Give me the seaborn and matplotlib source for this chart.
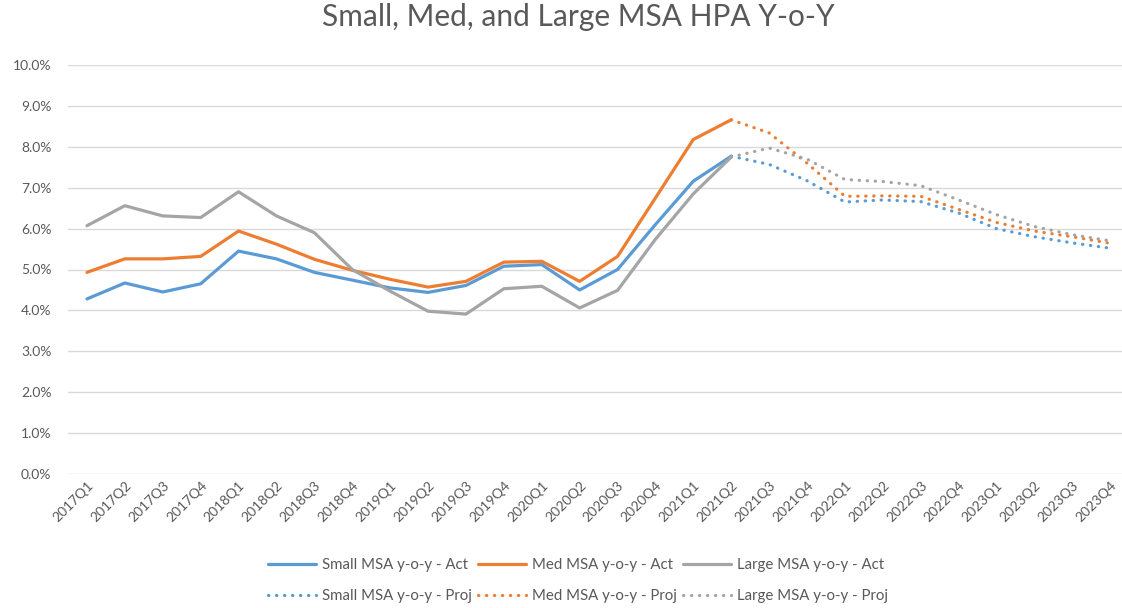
import numpy as np
import pandas as pd
import seaborn as sns
import matplotlib.pyplot as plt

# quarters on the x axis
quarters = [f"{y}Q{q}" for y in range(2017, 2024) for q in range(1, 5)]

# actual y-o-y HPA (%), 2017Q1 - 2021Q2
small_act = [4.28, 4.67, 4.45, 4.65, 5.45, 5.26, 4.93, 4.74, 4.55, 4.44,
             4.61, 5.08, 5.12, 4.50, 5.00, 6.10, 7.16, 7.77]
med_act = [4.93, 5.26, 5.26, 5.32, 5.94, 5.62, 5.25, 4.98, 4.76, 4.57,
           4.71, 5.18, 5.20, 4.71, 5.32, 6.75, 8.18, 8.66]
large_act = [6.07, 6.56, 6.31, 6.27, 6.90, 6.31, 5.90, 5.00, 4.47, 3.98,
             3.91, 4.53, 4.59, 4.06, 4.49, 5.74, 6.85, 7.75]

# projected y-o-y HPA (%), 2021Q2 - 2023Q4
small_proj = [7.77, 7.57, 7.17, 6.65, 6.70, 6.66, 6.38, 6.00, 5.80, 5.65, 5.52]
med_proj = [8.66, 8.34, 7.60, 6.79, 6.80, 6.79, 6.47, 6.15, 5.94, 5.80, 5.64]
large_proj = [7.75, 7.97, 7.70, 7.20, 7.15, 7.05, 6.70, 6.34, 6.05, 5.85, 5.70]

n_act = len(small_act)
pad_act = [np.nan] * (len(quarters) - n_act)
pad_proj = [np.nan] * (len(quarters) - len(small_proj))

df = pd.DataFrame({
    "pos": np.arange(len(quarters)),
    "quarter": quarters,
    "Small MSA y-o-y - Act": small_act + pad_act,
    "Med MSA y-o-y - Act": med_act + pad_act,
    "Large MSA y-o-y - Act": large_act + pad_act,
    "Small MSA y-o-y - Proj": pad_proj + small_proj,
    "Med MSA y-o-y - Proj": pad_proj + med_proj,
    "Large MSA y-o-y - Proj": pad_proj + large_proj,
})

sns.set_style("white")
plt.rcParams['font.family'] = ['Lato', 'DejaVu Sans']
txt = '#595959'

colors = {"Small": "#5B9BD5", "Med": "#ED7D31", "Large": "#A5A5A5"}

fig = plt.figure(figsize=(11.22, 6.08), dpi=100)
ax = fig.add_axes([68 / 1122, 1 - 474 / 608, 1 - 68 / 1122, (474 - 65) / 608])

for size in ["Small", "Med", "Large"]:
    for kind in ["Act", "Proj"]:
        col = f"{size} MSA y-o-y - {kind}"
        d = df.dropna(subset=[col])
        if kind == "Act":
            sns.lineplot(data=d, x="pos", y=d[col] / 100, ax=ax, color=colors[size],
                         lw=2.3, label=col, solid_capstyle='round')
        else:
            sns.lineplot(data=d, x="pos", y=d[col] / 100, ax=ax, color=colors[size],
                         lw=2.3, label=col, linestyle=(0, (0.1, 2.4)),
                         dash_capstyle='round')

ax.set_xlim(-0.5, -0.5 + (1122 - 68) / 37.9)
ax.set_ylim(0, 0.10)
ax.set_yticks(np.arange(0, 0.101, 0.01))
ax.set_yticklabels([f"{v:.1f}%" for v in np.arange(0, 10.01, 1)], color=txt, fontsize=10)
ax.set_xticks(df["pos"])
ax.set_xticklabels(quarters, rotation=45, ha='right', rotation_mode='anchor',
                   color=txt, fontsize=10)
ax.tick_params(axis='y', length=0, pad=12)
ax.tick_params(axis='x', length=0, pad=4)
ax.set_xlabel("")
ax.set_ylabel("")
ax.grid(axis='y', color='#D9D9D9', lw=1)
for s in ax.spines.values():
    s.set_visible(False)

fig.suptitle("Small, Med, and Large MSA HPA Y-o-Y", x=0.515, y=0.995, color=txt,
             fontsize=21.5, va='top')

h, l = ax.get_legend_handles_labels()
ax.get_legend().remove()
leg = fig.legend(h, l, ncol=3, loc='center', bbox_to_anchor=(0.515, 0.045),
                 frameon=False, fontsize=10.8, handlelength=3.2, handletextpad=0.4,
                 columnspacing=0.4, labelspacing=1.1)
for t in leg.get_texts():
    t.set_color(txt)

fig.savefig("out.png", dpi=100)
